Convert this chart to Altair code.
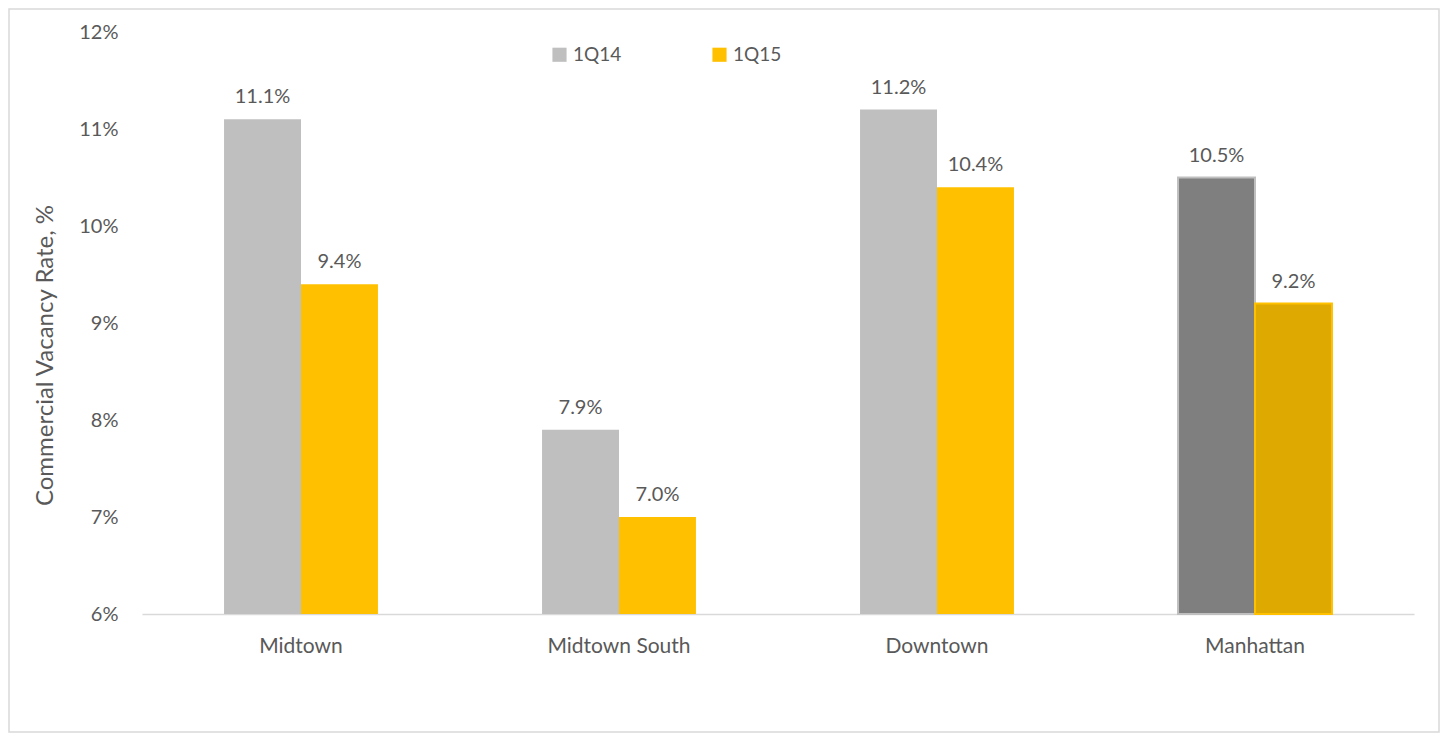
import altair as alt
import pandas as pd

regions = ["Midtown", "Midtown South", "Downtown", "Manhattan"]
series = ["1Q14", "1Q15"]
v_1q14 = [11.1, 7.9, 11.2, 10.5]
v_1q15 = [9.4, 7.0, 10.4, 9.2]
y_ticks = [6, 7, 8, 9, 10, 11, 12]
y_min = 6

rows = []
for i, r in enumerate(regions):
    rows.append({"region": r, "series": "1Q14", "value": v_1q14[i]})
    rows.append({"region": r, "series": "1Q15", "value": v_1q15[i]})
df = pd.DataFrame(rows)

FONT = "Lato"
TXT = "#595959"

x_enc = alt.X("region:N", sort=regions, title=None,
              scale=alt.Scale(paddingInner=0.516, paddingOuter=0.258),
              axis=alt.Axis(labelFontSize=21, labelColor=TXT, labelFont=FONT, ticks=False,
                            domainColor="#d9d9d9", domainWidth=1.5, labelPadding=21, labelAngle=0))
xoff = alt.XOffset("series:N", sort=series, scale=alt.Scale(paddingInner=0, paddingOuter=0))
y_enc = alt.Y("value:Q", title="Commercial Vacancy Rate, %",
              scale=alt.Scale(domain=[6, 12], nice=False, zero=False),
              axis=alt.Axis(values=y_ticks, labelExpr="datum.value + '%'", grid=False,
                            domain=False, ticks=False, labelFontSize=20, labelColor=TXT,
                            labelFont=FONT, labelPadding=24, titleFont=FONT, titleFontSize=24,
                            titleColor=TXT, titleFontWeight="normal", titleX=-97, titleY=323,
                            titleAngle=270, titleBaseline="middle", titleAlign="center"))
y2_enc = alt.Y2(datum=y_min)

base = alt.Chart(df)

bars = base.mark_bar().encode(
    x=x_enc, xOffset=xoff, y=y_enc, y2=y2_enc,
    color=alt.Color("series:N", sort=series,
                    scale=alt.Scale(domain=series, range=["#bfbfbf", "#ffc000"]),
                    legend=alt.Legend(title=None, orient="none", direction="horizontal",
                                      legendX=408, legendY=13, symbolType="square",
                                      symbolSize=200, symbolStrokeWidth=0,
                                      labelFont=FONT, labelFontSize=19, labelColor=TXT,
                                      columnPadding=88, labelOffset=4)),
)

hi = base.transform_filter(alt.datum.region == "Manhattan").mark_bar(strokeWidth=2).encode(
    x=x_enc, xOffset=xoff, y=y_enc, y2=y2_enc,
    fill=alt.Fill("series:N", scale=alt.Scale(domain=series, range=["#7f7f7f", "#dea900"]), legend=None),
    stroke=alt.Stroke("series:N", scale=alt.Scale(domain=series, range=["#bfbfbf", "#ffc000"]), legend=None),
)

labels = base.transform_calculate(lbl="format(datum.value, '.1f') + '%'").mark_text(
    font=FONT, fontSize=20, color=TXT, baseline="alphabetic", dy=-16
).encode(x=x_enc, xOffset=xoff, y=y_enc, text="lbl:N")

border = alt.Chart(pd.DataFrame({"a": [0]})).mark_rect(
    fill=None, stroke="#d9d9d9", strokeWidth=1.5, clip=False
).encode(x=alt.value(-133), x2=alt.value(1297), y=alt.value(-23), y2=alt.value(700))

chart = alt.layer(border, bars, hi, labels).resolve_scale(fill="independent", stroke="independent").properties(
    width=1272, height=582,
    autosize=alt.AutoSizeParams(type="none"),
    padding={"left": 134, "top": 24, "right": 26, "bottom": 120},
    background="white",
).configure_view(stroke=None)

chart.save("out.html", embed_options={"renderer": "svg", "actions": False})
